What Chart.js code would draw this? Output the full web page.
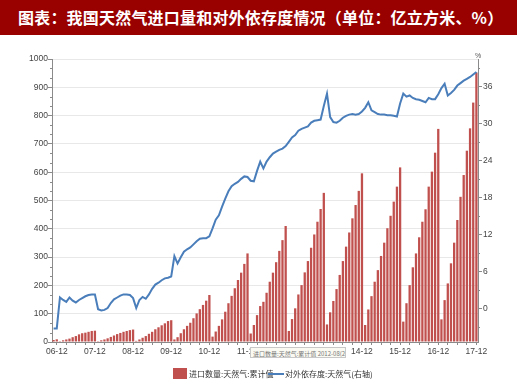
<!DOCTYPE html>
<html>
<head>
<meta charset="utf-8">
<script src="https://cdn.jsdelivr.net/npm/chart.js@4.4.0/dist/chart.umd.min.js"></script>
<style>
body { margin: 0; background: #fff; }
#wrap { position: relative; width: 520px; height: 389px; overflow: hidden; font-family: "Noto Sans CJK SC", sans-serif; }
#title { position: absolute; left: 0; top: 0; width: 517px; height: 35px; background: #990000; color: #fff;
  font: bold 16px "Noto Sans CJK SC"; line-height: 35px; padding-left: 18px; box-sizing: border-box; white-space: nowrap; letter-spacing: 0.2px; }
canvas { position: absolute; left: 0; top: 0; }
.lg { position: absolute; font-size: 8px; color: #333; white-space: nowrap; line-height: 10px; }
#pct { position: absolute; left: 475px; top: 52px; font: 7px "Liberation Sans"; color: #555; }
#tip { position: absolute; left: 250px; top: 347px; width: 96px; height: 11px; background: #fafaf2; border: 1px solid #c8c8c8;
  font-size: 6px; line-height: 11px; color: #777; white-space: nowrap; overflow: hidden; padding-left: 2px; box-sizing: border-box; }
</style>
</head>
<body>
<div id="wrap">
  <canvas id="chart" width="520" height="389"></canvas>
  <div id="title">图表：我国天然气进口量和对外依存度情况（单位：亿立方米、%）</div>
  <div id="pct">%</div>
  <div id="tip">进口数量:天然气:累计值 2012-08(2012-08)</div>
  <div style="position:absolute;left:173px;top:368px;width:14px;height:11px;background:#c0504d;"></div>
  <div class="lg" style="left:189px;top:369px;">进口数量:天然气:累计值</div>
  <div style="position:absolute;left:268px;top:373px;width:16px;height:2px;background:#4a7ebb;"></div>
  <div class="lg" style="left:285px;top:369px;">对外依存度:天然气(右轴)</div>
</div>
<script>
// 进口数量：天然气：累计值（亿立方米），每年1-12月累计
const imports2006 = [7, 9.5]; // 11月、12月
const imports2007 = [3, 6, 9, 12, 17, 21, 27, 31, 33, 36, 39, 40];
const imports2008 = [3, 6, 9, 13, 18, 23, 28, 32, 36, 39, 42, 44];
const imports2009 = [4, 9, 15, 21, 29, 36, 45, 52, 59, 66, 74, 77];
const imports2010 = [9, 17, 31, 45, 57, 68, 84, 101, 116, 131, 146, 166];
const imports2011 = [19, 37, 57, 80, 107, 137, 163, 190, 219, 245, 276, 313];
const imports2012 = [30, 60, 95, 127, 142, 174, 213, 245, 282, 322, 360, 410];
const imports2013 = [39, 81, 119, 168, 201, 246, 286, 333, 380, 425, 470, 527];
const imports2014 = [62, 105, 145, 187, 237, 286, 337, 387, 437, 484, 534, 596];
const imports2015 = [60, 115, 162, 213, 254, 304, 351, 402, 446, 496, 549, 617];
const imports2016 = [72, 137, 201, 264, 313, 370, 425, 469, 549, 602, 669, 753];
const imports2017 = [80, 148, 207, 278, 351, 431, 513, 590, 676, 755, 846, 952];

// 对外依存度：天然气（%，右轴）
const dep2006 = [-3.2, -3.2];
const dep2007 = [1.8, 1.4, 1.1, 1.8, 1.3, 1.0, 1.4, 1.7, 2.0, 2.2, 2.3, 2.3];
const dep2008 = [-0.1, -0.3, -0.2, 0.1, 0.9, 1.5, 1.8, 2.1, 2.3, 2.3, 2.2, 1.7];
const dep2009 = [0.1, 1.4, 1.9, 1.6, 2.3, 3.2, 3.9, 4.2, 4.6, 4.9, 5.0, 5.2];
const dep2010 = [8.5, 7.3, 8.3, 9.2, 9.6, 9.9, 10.4, 10.9, 11.3, 11.4, 11.4, 11.7];
const dep2011 = [13.0, 14.4, 15.1, 16.5, 17.8, 19.0, 19.8, 20.2, 20.5, 21.0, 21.4, 21.3];
const dep2012 = [20.7, 20.6, 22.3, 23.8, 22.7, 23.8, 24.5, 25.1, 25.4, 25.7, 25.9, 26.3];
const dep2013 = [27.0, 27.7, 28.1, 28.8, 29.1, 29.3, 29.5, 30.1, 30.4, 30.5, 30.6, 32.8];
const dep2014 = [34.8, 31.0, 30.2, 30.1, 30.4, 30.9, 31.2, 31.4, 31.5, 31.4, 31.5, 31.9];
const dep2015 = [32.5, 33.4, 32.1, 31.8, 31.5, 31.4, 31.4, 31.3, 31.3, 31.2, 31.1, 33.2];
const dep2016 = [34.8, 34.3, 34.5, 34.1, 33.9, 33.8, 33.6, 33.4, 34.1, 33.9, 33.9, 34.7];
const dep2017 = [35.7, 36.4, 34.5, 34.9, 35.4, 36.1, 36.5, 36.9, 37.2, 37.5, 37.9, 38.3];

const leftTicks = [0, 100, 200, 300, 400, 500, 600, 700, 800, 900, 1000];
const rightTicks = [0, 6, 12, 18, 24, 30, 36];

const importVolume = [].concat(imports2006, imports2007, imports2008, imports2009, imports2010, imports2011,
  imports2012, imports2013, imports2014, imports2015, imports2016, imports2017);
const dependency = [].concat(dep2006, dep2007, dep2008, dep2009, dep2010, dep2011,
  dep2012, dep2013, dep2014, dep2015, dep2016, dep2017);

// 月份标签 06-11 ... 17-12
const months = [];
for (let y = 2006; y <= 2017; y++) {
  for (let m = (y === 2006 ? 11 : 1); m <= 12; m++) {
    months.push(String(y).slice(2) + '-' + String(m).padStart(2, '0'));
  }
}

const tickFont = { family: 'Liberation Sans', size: 8.5 };
const axisGray = '#8a8a8a';

// 次刻度
const minorTicks = {
  id: 'minorTicks',
  afterDraw(chart) {
    const { ctx, scales: { y, y1 } } = chart;
    ctx.save();
    ctx.strokeStyle = axisGray;
    ctx.lineWidth = 1;
    for (let k = 0; k < leftTicks.length - 1; k++) {
      const step = (leftTicks[k + 1] - leftTicks[k]) / 3;
      for (let j = 1; j < 3; j++) {
        const py = Math.round(y.getPixelForValue(leftTicks[k] + j * step)) + 0.5;
        ctx.beginPath(); ctx.moveTo(y.right - 2, py); ctx.lineTo(y.right, py); ctx.stroke();
      }
    }
    for (let v = -3; v <= 39; v += 6) {
      const py = Math.round(y1.getPixelForValue(v)) + 0.5;
      ctx.beginPath(); ctx.moveTo(y1.left, py); ctx.lineTo(y1.left + 2, py); ctx.stroke();
    }
    ctx.restore();
  }
};

new Chart(document.getElementById('chart'), {
  type: 'bar',
  data: {
    labels: months,
    datasets: [
      {
        type: 'bar',
        label: '进口数量:天然气:累计值',
        data: importVolume,
        backgroundColor: '#c0504d',
        barPercentage: 0.72,
        categoryPercentage: 1,
        yAxisID: 'y',
        order: 1
      },
      {
        type: 'line',
        label: '对外依存度:天然气(右轴)',
        data: dependency,
        borderColor: '#4a7ebb',
        borderWidth: 2,
        pointRadius: 0,
        tension: 0,
        yAxisID: 'y1',
        order: 0
      }
    ]
  },
  options: {
    responsive: false,
    animation: false,
    layout: { padding: { top: 59, left: 0, right: 0, bottom: 0 } },
    plugins: { legend: { display: false }, tooltip: { enabled: false } },
    scales: {
      x: {
        offset: true,
        grid: {
          offset: false,
          drawOnChartArea: false,
          tickLength: 3,
          color: c => (c.index % 3 === 1 ? axisGray : 'rgba(0,0,0,0)')
        },
        border: { color: axisGray },
        ticks: {
          autoSkip: false,
          maxRotation: 0,
          padding: 2,
          font: tickFont,
          color: '#444',
          callback: (v, i) => (months[i].endsWith('-12') ? months[i] : '')
        },
        afterFit: s => { s.height = 47; }
      },
      y: {
        min: 0,
        max: 1000,
        afterBuildTicks: s => { s.ticks = leftTicks.map(v => ({ value: v })); },
        ticks: { padding: 0, font: tickFont, color: '#444', callback: v => String(v) },
        grid: { color: '#e8e8e8', tickColor: axisGray, tickLength: 4 },
        border: { color: axisGray },
        afterFit: s => { s.width = 52; }
      },
      y1: {
        position: 'right',
        min: -5.4,
        max: 40.4,
        afterBuildTicks: s => { s.ticks = rightTicks.map(v => ({ value: v })); },
        ticks: { padding: 1, font: tickFont, color: '#444', callback: v => String(v) },
        grid: { drawOnChartArea: false, color: axisGray, tickLength: 4 },
        border: { color: axisGray },
        afterFit: s => { s.width = 42; }
      }
    }
  },
  plugins: [minorTicks]
});
</script>
</body>
</html>
